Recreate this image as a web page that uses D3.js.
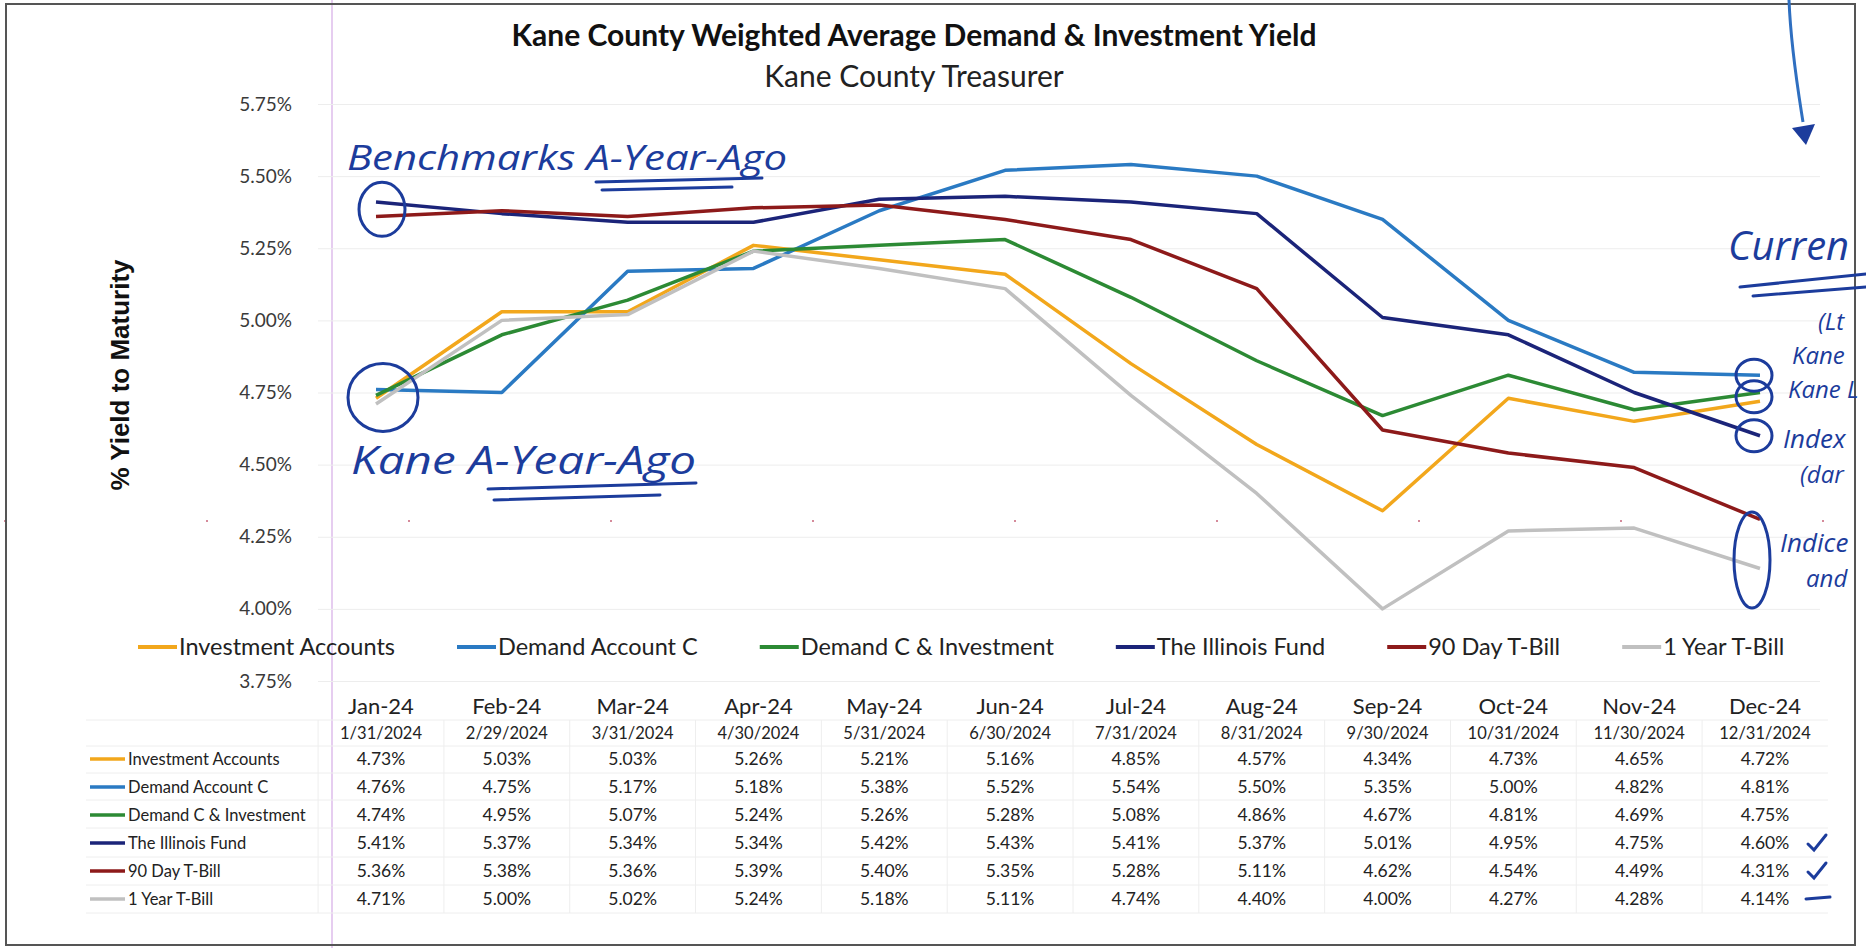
<!DOCTYPE html>
<html lang="en">
  <head>
    <meta charset="UTF-8" />
    <title>Kane County Weighted Average Demand &amp; Investment Yield</title>
    <style>
      body {
        margin: 0;
        background: #fff;
      }
      svg text {
        font-family: Lato, "Open Sans", sans-serif;
      }
      .ink {
        font-family: "Open Sans", sans-serif !important;
        font-style: italic;
        fill: #1c3c9c;
      }
      .ink-line {
        fill: none;
        stroke: #1c3c9c;
        stroke-width: 3;
        stroke-linecap: round;
      }
    </style>
    <script src="https://cdn.jsdelivr.net/npm/d3@7"></script>
  </head>
  <body>
    <div id="chart"></div>
    <script>
      const months = ["Jan-24", "Feb-24", "Mar-24", "Apr-24", "May-24", "Jun-24",
        "Jul-24", "Aug-24", "Sep-24", "Oct-24", "Nov-24", "Dec-24"];
      const dates = ["1/31/2024", "2/29/2024", "3/31/2024", "4/30/2024", "5/31/2024", "6/30/2024",
        "7/31/2024", "8/31/2024", "9/30/2024", "10/31/2024", "11/30/2024", "12/31/2024"];
      const seriesNames = ["Investment Accounts", "Demand Account C", "Demand C & Investment",
        "The Illinois Fund", "90 Day T-Bill", "1 Year T-Bill"];
      const investmentAccounts = [4.73, 5.03, 5.03, 5.26, 5.21, 5.16, 4.85, 4.57, 4.34, 4.73, 4.65, 4.72];
      const demandAccountC = [4.76, 4.75, 5.17, 5.18, 5.38, 5.52, 5.54, 5.50, 5.35, 5.00, 4.82, 4.81];
      const demandCInvestment = [4.74, 4.95, 5.07, 5.24, 5.26, 5.28, 5.08, 4.86, 4.67, 4.81, 4.69, 4.75];
      const illinoisFund = [5.41, 5.37, 5.34, 5.34, 5.42, 5.43, 5.41, 5.37, 5.01, 4.95, 4.75, 4.60];
      const tBill90 = [5.36, 5.38, 5.36, 5.39, 5.40, 5.35, 5.28, 5.11, 4.62, 4.54, 4.49, 4.31];
      const tBill1y = [4.71, 5.00, 5.02, 5.24, 5.18, 5.11, 4.74, 4.40, 4.00, 4.27, 4.28, 4.14];
      const yTicks = [3.75, 4.0, 4.25, 4.5, 4.75, 5.0, 5.25, 5.5, 5.75];
      const colors = ["#f2a71c", "#2a7ac3", "#2c8a34", "#1b2479", "#8d1a1a", "#c0c0c0"];

      const allSeries = [investmentAccounts, demandAccountC, demandCInvestment, illinoisFund, tBill90, tBill1y];
      const series = seriesNames.map((name, i) => ({ name, color: colors[i], values: allSeries[i] }));

      const W = 1866, H = 948;
      const svg = d3.select("#chart").append("svg").attr("width", W).attr("height", H);

      const x = d3.scalePoint().domain(months).range([376, 1760]);
      const y = d3.scaleLinear().domain([3.75, 5.75]).range([681, 104]);
      const pct = (d) => d.toFixed(2) + "%";

      // page break marks from the print
      svg.append("line").attr("x1", 332).attr("x2", 332).attr("y1", 0).attr("y2", H)
        .attr("stroke", "#e6cdf0").attr("stroke-width", 2);
      svg.append("line").attr("x1", 4).attr("x2", 1860).attr("y1", 521).attr("y2", 521)
        .attr("stroke", "#d58a9a").attr("stroke-width", 2).attr("stroke-dasharray", "2 200");

      // frame
      svg.append("rect").attr("x", 6).attr("y", 4).attr("width", 1849).attr("height", 941)
        .attr("fill", "none").attr("stroke", "#555").attr("stroke-width", 2);

      // titles
      svg.append("text").attr("x", 914).attr("y", 46).attr("text-anchor", "middle")
        .attr("font-size", 30).attr("font-weight", 700).attr("fill", "#111")
        .text("Kane County Weighted Average Demand & Investment Yield");
      svg.append("text").attr("x", 914).attr("y", 87).attr("text-anchor", "middle")
        .attr("font-size", 30).attr("fill", "#222").text("Kane County Treasurer");

      // gridlines
      const grid = svg.append("g").attr("transform", "translate(318,0)")
        .call(d3.axisRight(y).tickValues(yTicks).tickSize(1502).tickFormat(""));
      grid.select(".domain").remove();
      grid.selectAll("line").attr("stroke", "#ededed");

      // y axis labels
      const yAxis = svg.append("g").attr("transform", "translate(292,0)")
        .call(d3.axisLeft(y).tickValues(yTicks).tickSize(0).tickPadding(0).tickFormat(pct));
      yAxis.select(".domain").remove();
      yAxis.selectAll("text").attr("font-size", 19).attr("fill", "#3a3a3a")
        .style("font-family", "Lato, sans-serif");

      svg.append("text")
        .attr("transform", "translate(129,375) rotate(-90)")
        .attr("text-anchor", "middle")
        .style("font-family", "'Liberation Sans', Arial, sans-serif")
        .attr("font-size", 26).attr("font-weight", 700).attr("fill", "#111")
        .text("% Yield to Maturity");

      // lines
      const line = d3.line().x((d, i) => x(months[i])).y((d) => y(d));
      svg.append("g").selectAll("path").data(series).join("path")
        .attr("d", (d) => line(d.values))
        .attr("fill", "none").attr("stroke", (d) => d.color)
        .attr("stroke-width", 3.5).attr("stroke-linejoin", "round");

      // legend
      const legend = svg.append("g").attr("transform", "translate(0,647)");
      let lx = 138;
      series.forEach((s) => {
        legend.append("line").attr("x1", lx).attr("x2", lx + 39).attr("y1", 0).attr("y2", 0)
          .attr("stroke", s.color).attr("stroke-width", 4);
        const t = legend.append("text").attr("x", lx + 41).attr("y", 0).attr("dy", "0.35em")
          .attr("font-size", 23.5).attr("fill", "#222").text(s.name);
        lx += 41 + t.node().getComputedTextLength() + 62;
      });

      // data table
      const table = svg.append("g");
      const colX = (m) => x(m) + 5;
      const rowY = (i) => 759 + i * 28;
      const step = x.step();
      const lineRows = [720, 746, 773, 800, 828, 857, 885, 913];
      table.selectAll(".hline").data(lineRows).join("line")
        .attr("x1", 86).attr("x2", colX(months[11]) + step / 2)
        .attr("y1", (d) => d).attr("y2", (d) => d)
        .attr("stroke", "#eeeeee");
      table.selectAll(".vline").data(months).join("line")
        .attr("x1", (d) => colX(d) - step / 2).attr("x2", (d) => colX(d) - step / 2)
        .attr("y1", 720).attr("y2", 913).attr("stroke", "#eeeeee");

      table.selectAll(".month").data(months).join("text")
        .attr("x", colX).attr("y", 706).attr("dy", "0.35em").attr("text-anchor", "middle")
        .attr("font-size", 22).attr("fill", "#222").text((d) => d);
      table.selectAll(".date").data(dates).join("text")
        .attr("x", (d, i) => colX(months[i])).attr("y", 733).attr("dy", "0.35em")
        .attr("text-anchor", "middle").attr("font-size", 16.5).attr("fill", "#222").text((d) => d);

      series.forEach((s, r) => {
        table.append("line").attr("x1", 90).attr("x2", 125).attr("y1", rowY(r)).attr("y2", rowY(r))
          .attr("stroke", s.color).attr("stroke-width", 3.5);
        table.append("text").attr("x", 128).attr("y", rowY(r)).attr("dy", "0.35em")
          .attr("font-size", 16.5).attr("fill", "#222").text(s.name);
        table.append("g").selectAll("text").data(s.values).join("text")
          .attr("x", (d, i) => colX(months[i])).attr("y", rowY(r)).attr("dy", "0.35em")
          .attr("text-anchor", "middle").attr("font-size", 17.5).attr("fill", "#222")
          .text(pct);
      });

      // handwritten notes (scanned ink)
      const ink = svg.append("g");
      const jan = x(months[0]), dec = x(months[11]);

      ink.append("text").attr("class", "ink").attr("x", 347).attr("y", 170)
        .attr("font-size", 34).attr("textLength", 440).attr("lengthAdjust", "spacingAndGlyphs")
        .text("Benchmarks A-Year-Ago");
      ink.append("path").attr("class", "ink-line").attr("d", "M596,182 L762,178 M602,190 L732,187");
      ink.append("ellipse").attr("class", "ink-line")
        .attr("cx", jan + 6).attr("cy", (y(illinoisFund[0]) + y(tBill90[0])) / 2)
        .attr("rx", 23).attr("ry", 27);

      ink.append("ellipse").attr("class", "ink-line")
        .attr("cx", jan + 7).attr("cy", y(demandCInvestment[0]) + 2)
        .attr("rx", 35).attr("ry", 34);
      ink.append("text").attr("class", "ink").attr("x", 351).attr("y", 474)
        .attr("font-size", 38).attr("textLength", 345).attr("lengthAdjust", "spacingAndGlyphs")
        .text("Kane A-Year-Ago");
      ink.append("path").attr("class", "ink-line").attr("d", "M488,489 L696,483 M494,500 L660,495");

      // arrow at top right
      ink.append("path").attr("fill", "none").attr("stroke", "#2f6fc0").attr("stroke-width", 3)
        .attr("d", "M1789,0 C1791,50 1798,90 1803,122");
      ink.append("path").attr("fill", "#1c3c9c").attr("d", "M1792,128 L1815,124 L1806,145 Z");

      ink.append("text").attr("class", "ink").attr("x", 1728).attr("y", 260)
        .attr("font-size", 40).text("Curren");
      ink.append("path").attr("class", "ink-line").attr("d", "M1740,287 L1866,274 M1753,296 L1866,287");

      ink.selectAll(".dec-ring").data([demandAccountC[11], (demandCInvestment[11] + investmentAccounts[11]) / 2, illinoisFund[11]])
        .join("ellipse").attr("class", "ink-line")
        .attr("cx", dec - 6).attr("cy", (d) => y(d)).attr("rx", 18).attr("ry", 16);
      ink.append("ellipse").attr("class", "ink-line")
        .attr("cx", dec - 8).attr("cy", (y(tBill90[11]) + y(tBill1y[11])) / 2 + 16)
        .attr("rx", 18).attr("ry", 48);

      const notes = [
        ["(Lt", 1818, 330, 24],
        ["Kane", 1792, 364, 24],
        ["Kane L", 1788, 398, 24],
        ["Index", 1783, 448, 26],
        ["(dar", 1800, 483, 24],
        ["Indice", 1780, 552, 26],
        ["and", 1806, 587, 24],
      ];
      ink.selectAll(".note").data(notes).join("text").attr("class", "ink")
        .attr("x", (d) => d[1]).attr("y", (d) => d[2]).attr("font-size", (d) => d[3])
        .text((d) => d[0]);

      // ticks next to the December column
      [3, 4].forEach((r) => {
        ink.append("path").attr("class", "ink-line")
          .attr("d", `M1808,${rowY(r) + 1} L1814,${rowY(r) + 7} L1826,${rowY(r) - 8}`);
      });
      ink.append("path").attr("class", "ink-line").attr("stroke-width", 4)
        .attr("d", `M1806,${rowY(5)} L1830,${rowY(5) - 2}`);
    </script>
  </body>
</html>
